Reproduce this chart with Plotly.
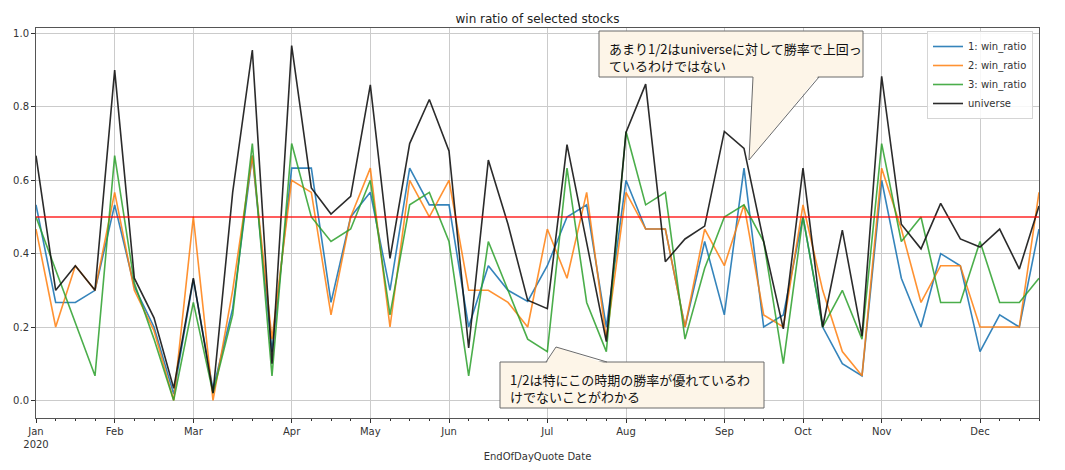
import plotly.graph_objects as go
import pandas as pd

# ---------------- data ----------------
dates = pd.date_range("2020-01-06", periods=52, freq="7D")

win1 = [0.533, 0.267, 0.267, 0.300, 0.533, 0.310, 0.200, 0.017, 0.330, 0.030,
        0.250, 0.667, 0.133, 0.633, 0.633, 0.267, 0.500, 0.567, 0.300, 0.633,
        0.533, 0.533, 0.200, 0.367, 0.300, 0.270, 0.367, 0.500, 0.533, 0.200,
        0.600, 0.467, 0.467, 0.200, 0.433, 0.233, 0.633, 0.200, 0.233, 0.500,
        0.200, 0.100, 0.067, 0.600, 0.333, 0.200, 0.400, 0.367, 0.133, 0.233,
        0.200, 0.467]
win2 = [0.467, 0.200, 0.367, 0.300, 0.567, 0.300, 0.190, 0.000, 0.500, 0.000,
        0.300, 0.667, 0.167, 0.600, 0.567, 0.233, 0.500, 0.633, 0.200, 0.600,
        0.500, 0.600, 0.300, 0.300, 0.267, 0.200, 0.467, 0.333, 0.567, 0.167,
        0.567, 0.467, 0.467, 0.200, 0.467, 0.367, 0.533, 0.233, 0.200, 0.533,
        0.300, 0.133, 0.067, 0.633, 0.467, 0.267, 0.367, 0.367, 0.200, 0.200,
        0.200, 0.567]
win3 = [0.500, 0.356, 0.211, 0.067, 0.667, 0.320, 0.167, 0.000, 0.267, 0.020,
        0.233, 0.700, 0.067, 0.700, 0.500, 0.433, 0.467, 0.600, 0.233, 0.533,
        0.567, 0.433, 0.067, 0.433, 0.300, 0.167, 0.133, 0.633, 0.267, 0.133,
        0.733, 0.533, 0.567, 0.167, 0.360, 0.500, 0.533, 0.433, 0.100, 0.500,
        0.200, 0.300, 0.167, 0.700, 0.433, 0.500, 0.267, 0.267, 0.433, 0.267,
        0.267, 0.333]
universe = [0.667, 0.300, 0.367, 0.300, 0.900, 0.333, 0.225, 0.033, 0.333, 0.020,
            0.567, 0.955, 0.100, 0.967, 0.579, 0.508, 0.556, 0.860, 0.387, 0.700,
            0.820, 0.680, 0.143, 0.655, 0.480, 0.273, 0.250, 0.697, 0.430, 0.160,
            0.730, 0.862, 0.378, 0.440, 0.475, 0.733, 0.687, 0.433, 0.195, 0.633,
            0.200, 0.464, 0.175, 0.883, 0.480, 0.413, 0.537, 0.440, 0.418, 0.467,
            0.358, 0.530]

series_names = ["1: win_ratio", "2: win_ratio", "3: win_ratio", "universe"]
series_colors = ["rgba(31,119,180,0.9)", "rgba(255,127,14,0.85)",
                 "rgba(44,160,44,0.85)", "rgba(20,20,20,0.9)"]

month_ticks = ["2020-01-06", "2020-02-03", "2020-03-02", "2020-04-06",
               "2020-05-04", "2020-06-01", "2020-07-06", "2020-08-03",
               "2020-09-07", "2020-10-05", "2020-11-02", "2020-12-07"]
month_labels = ["Jan<br>2020", "Feb", "Mar", "Apr", "May", "Jun", "Jul",
                "Aug", "Sep", "Oct", "Nov", "Dec"]
y_ticks = [0.0, 0.2, 0.4, 0.6, 0.8, 1.0]
threshold = 0.5

title_text = "win ratio of selected stocks"
xlabel_text = "EndOfDayQuote Date"
note1 = "あまり1/2はuniverseに対して勝率で上回っ<br>ているわけではない"
note2 = "1/2は特にこの時期の勝率が優れているわ<br>けでないことがわかる"

# ---------------- layout geometry ----------------
# page body has an 8px margin; window-coordinates of the plot area:
OFF = 8
WIN_W, WIN_H = 1065, 470
PL, PR, PT, PB = 36, 1039, 28, 418          # plot area in window px
W, H = WIN_W - 2 * OFF, WIN_H - 2 * OFF
L, T = PL - OFF, PT - OFF
R, B = W - (PR - OFF), H - (PB - OFF)
PW, PH = PR - PL, PB - PT


def px(x):
    return (x - PL) / PW


def py(y):
    return (PB - y) / PH


fig = go.Figure()
for vals, name, col in zip([win1, win2, win3, universe], series_names, series_colors):
    fig.add_trace(go.Scatter(x=dates, y=vals, mode="lines", name=name,
                             line=dict(color=col, width=1.6)))

shapes = []
shapes.append(dict(type="line", xref="paper", x0=0, x1=1, yref="y",
                   y0=threshold, y1=threshold,
                   line=dict(color="rgba(255,0,0,0.85)", width=1.6)))

box_fill = "#fdf5e8"
box_line = "#6a6a6a"


def callout(bx0, by0, bx1, by1, base_l, base_r, base_y, tip, inward):
    out = []
    out.append(dict(type="rect", xref="paper", yref="paper",
                    x0=px(bx0), x1=px(bx1), y0=py(by1), y1=py(by0),
                    fillcolor=box_fill, line=dict(color=box_line, width=1)))
    iy = base_y + inward
    out.append(dict(type="path", xref="paper", yref="paper",
                    path=f"M {px(base_l)},{py(iy)} L {px(tip[0])},{py(tip[1])} L {px(base_r)},{py(iy)} Z",
                    fillcolor=box_fill, line=dict(width=0)))
    out.append(dict(type="path", xref="paper", yref="paper",
                    path=f"M {px(base_l)},{py(base_y)} L {px(tip[0])},{py(tip[1])} L {px(base_r)},{py(base_y)}",
                    fillcolor="rgba(0,0,0,0)", line=dict(color=box_line, width=1)))
    return out


shapes += callout(599, 31, 863, 77, 753, 819, 77, (749, 160), -2)
shapes += callout(500, 362, 764, 408, 546, 607, 362, (556, 347), 2)

annotations = [
    dict(xref="paper", yref="paper", x=px(607), y=py(37), xanchor="left", yanchor="top",
         text=note1, showarrow=False, align="left",
         font=dict(family="Noto Sans CJK JP", size=13, color="#111")),
    dict(xref="paper", yref="paper", x=px(508), y=py(368), xanchor="left", yanchor="top",
         text=note2, showarrow=False, align="left",
         font=dict(family="Noto Sans CJK JP", size=13, color="#111")),
]

axis_font = dict(family="DejaVu Sans", size=10, color="#333")

fig.update_layout(
    width=W, height=H,
    margin=dict(l=L, r=R, t=T, b=B, autoexpand=False),
    paper_bgcolor="white", plot_bgcolor="white",
    title=dict(text=title_text, x=0.5, xref="paper", y=1 - (19 - OFF) / H, yanchor="middle",
               font=dict(family="DejaVu Sans", size=12, color="#222")),
    showlegend=True,
    legend=dict(x=px(1033), xanchor="right", y=py(31), yanchor="top",
                bgcolor="rgba(255,255,255,0.85)", bordercolor="#d5d5d5", borderwidth=1,
                font=dict(family="DejaVu Sans", size=10, color="#333"),
                tracegroupgap=0, itemwidth=30),
    shapes=shapes,
    annotations=annotations,
)

fig.update_xaxes(
    type="date",
    range=[dates[0], dates[-1]],
    tickvals=month_ticks, ticktext=month_labels,
    ticks="outside", ticklen=4, tickcolor="#333",
    showgrid=True, gridcolor="#cbcbcb", gridwidth=1,
    showline=True, linecolor="#555", linewidth=1, mirror=True,
    tickfont=axis_font,
    minor=dict(ticks="outside", ticklen=2, tickcolor="#333",
               dtick=7 * 86400000, tick0="2020-01-06", showgrid=False),
    title=dict(text=xlabel_text, font=dict(family="DejaVu Sans", size=10, color="#333"),
               standoff=7),
    zeroline=False,
)
fig.update_yaxes(
    range=[-0.048, 1.015],
    tickvals=y_ticks, tickformat=".1f",
    ticks="outside", ticklen=4, tickcolor="#333",
    showgrid=True, gridcolor="#cbcbcb", gridwidth=1,
    showline=True, linecolor="#555", linewidth=1, mirror=True,
    tickfont=axis_font, zeroline=False,
)

fig.write_html("out.html")
